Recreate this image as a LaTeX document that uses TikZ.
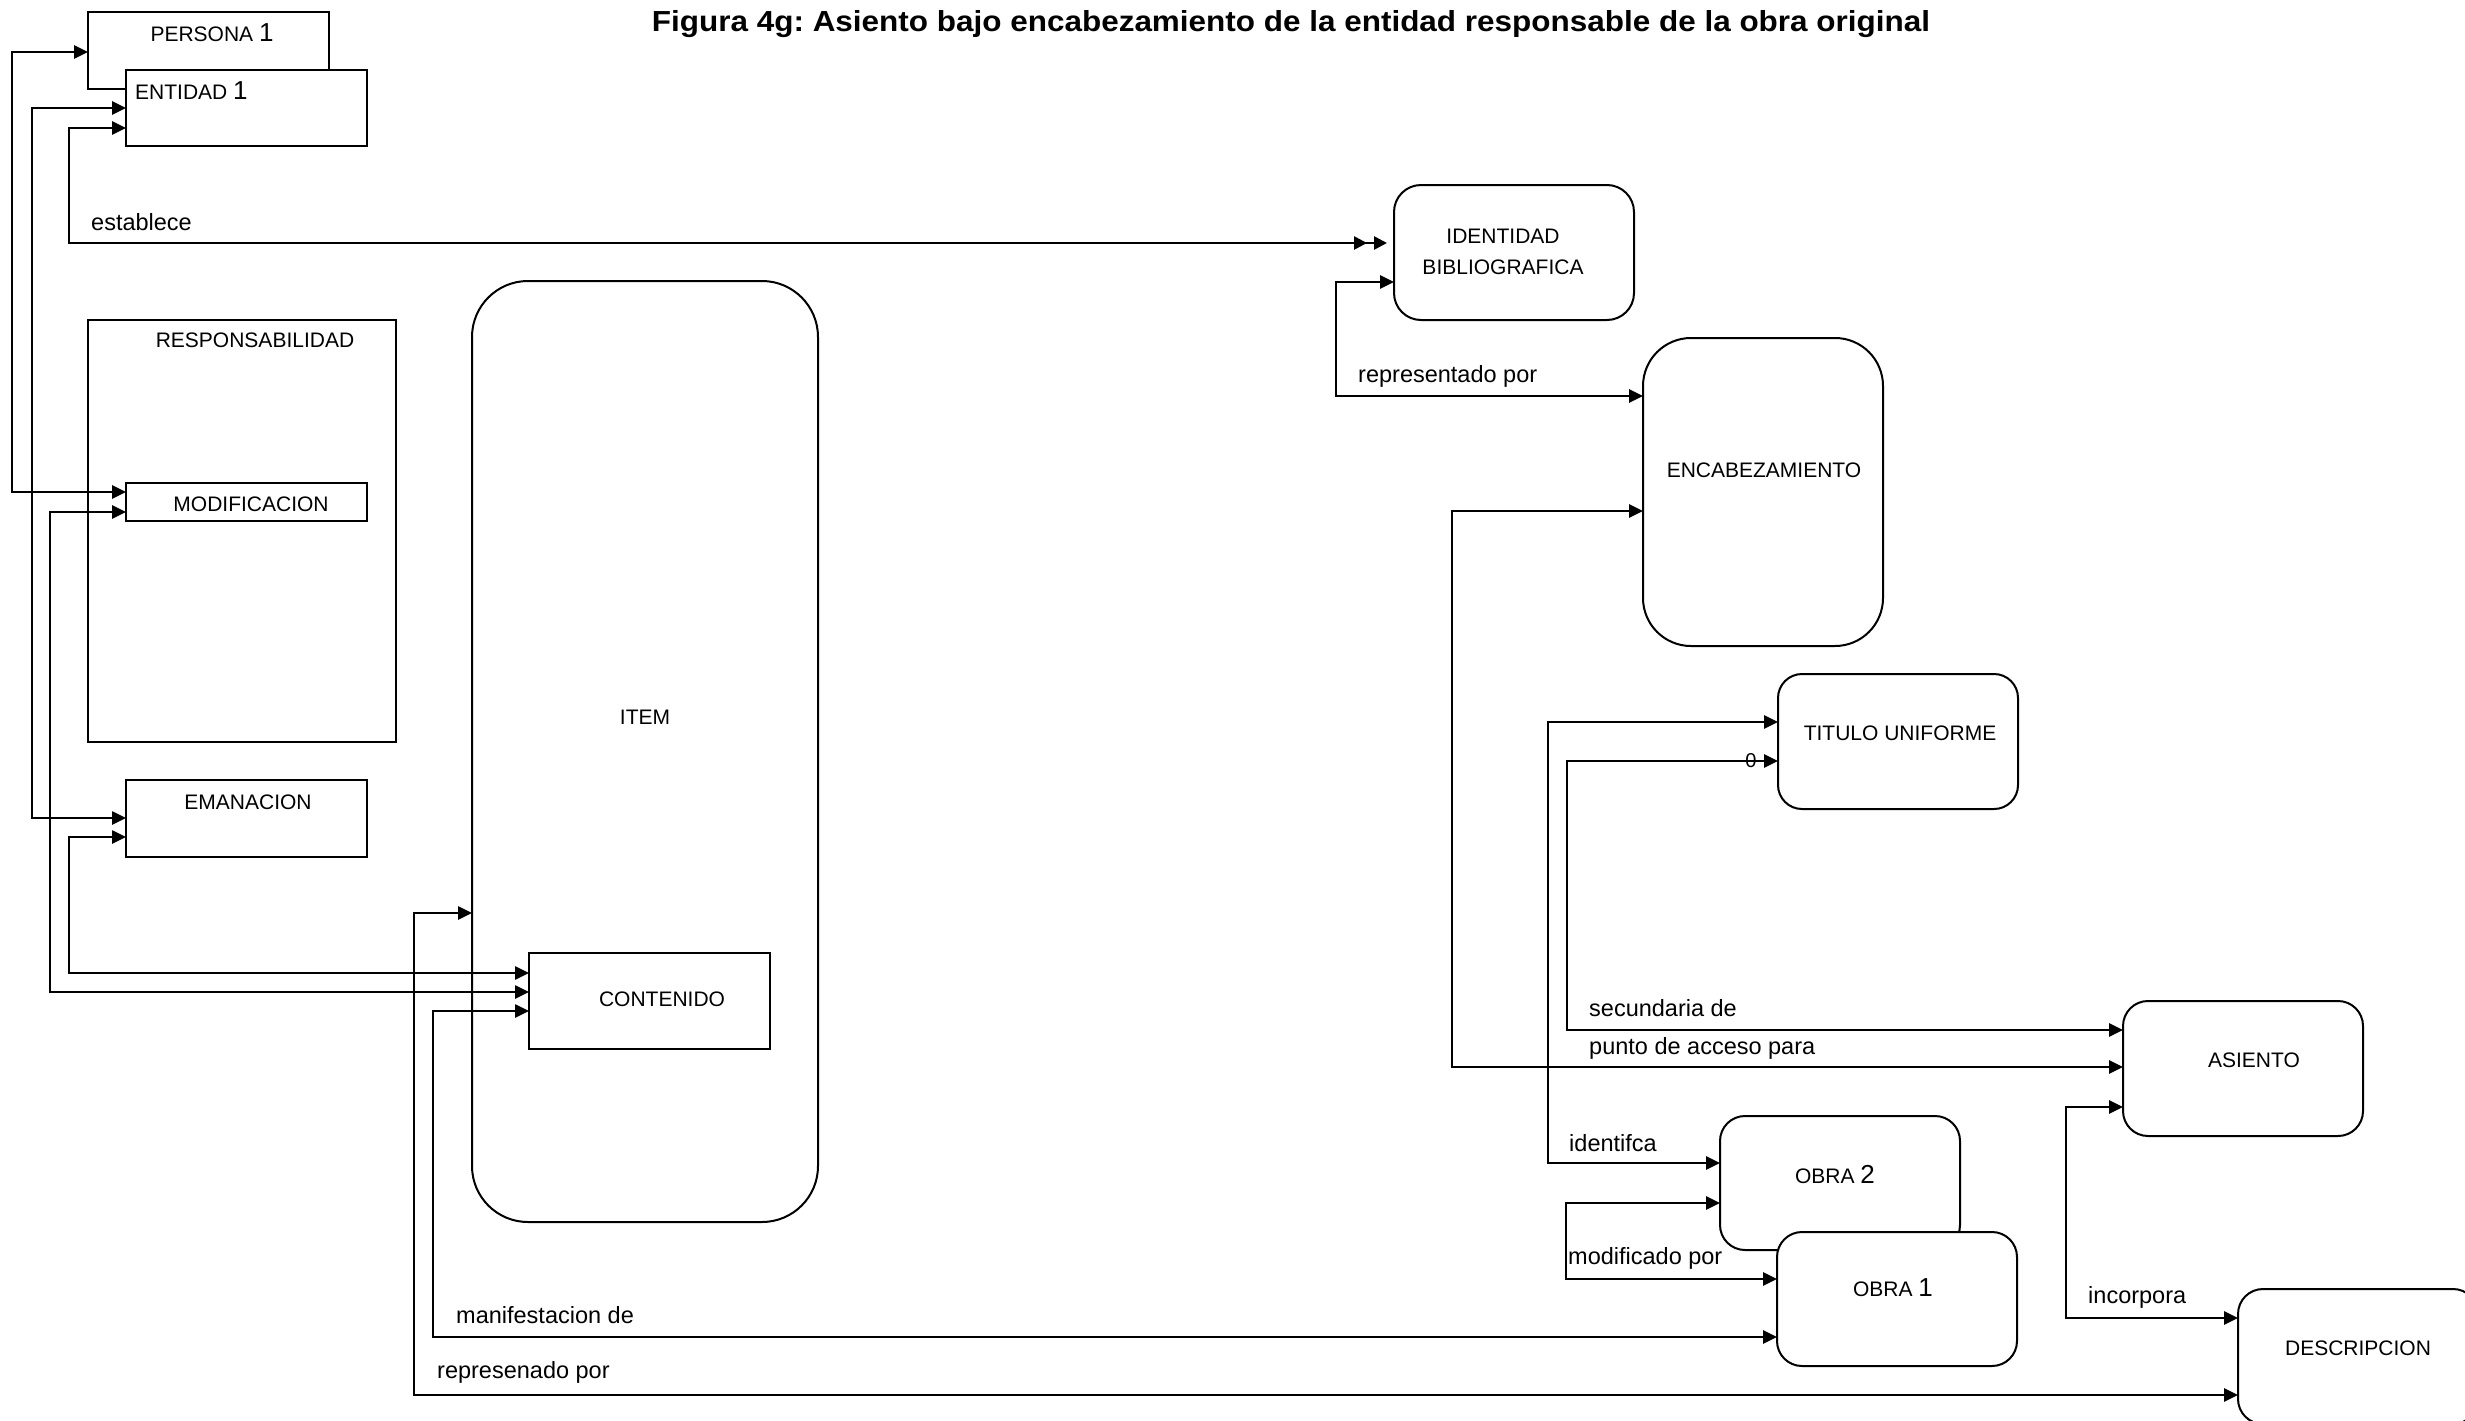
\documentclass[tikz,border=0pt]{standalone}
\usepackage{fontspec}
\setmainfont{Liberation Sans}
\usepackage{graphicx}
\usetikzlibrary{arrows.meta}
\definecolor{INK}{HTML}{000000}
\newcommand{\nb}[1]{{\fontsize{26}{26}\selectfont #1}}
\frenchspacing

\begin{document}
\begin{tikzpicture}[x=1pt,y=-1pt]
\tikzset{box/.style={draw=INK,line width=2.7pt,fill=white,inner sep=0pt,outer sep=0pt},
 rbox/.style={box,line width=2pt,rounded corners=#1},
 lab/.style={font=\fontsize{21}{25}\selectfont,inner sep=0pt,INK},
 rel/.style={font=\fontsize{23.5}{28}\selectfont,inner sep=0pt,anchor=west,INK},
 link/.style={line width=2.6pt,INK,{Triangle[length=14pt,width=13pt]}-{Triangle[length=14pt,width=13pt]}},
 link2/.style={link,{Triangle[length=14pt,width=13pt]}-{Triangle[length=13pt,width=13pt,sep=7pt]Triangle[length=13pt,width=13pt,sep=7pt]}}}
\clip (0,0) rectangle (2465,1421);
\fill[white] (0,0) rectangle (2465,1421);
\node[font=\bfseries\fontsize{29}{34}\selectfont,inner sep=0pt] (ttl) at (1291,24)
 {\scalebox{1.085}[1]{Figura 4g: Asiento bajo encabezamiento de la entidad responsable de la obra original}};
% left column
\node[box,minimum width=241pt,minimum height=77pt] (persona) at (208.5,50.5) {};
\node[lab] at (212,33) {PERSONA \nb{1}};
\node[box,minimum width=241pt,minimum height=76pt] (entidad) at (246.5,108) {};
\node[lab,anchor=west] at (135,91) {ENTIDAD \nb{1}};
\node[box,minimum width=308pt,minimum height=422pt] (resp) at (242,531) {};
\node[lab] at (255,340) {RESPONSABILIDAD};
\node[box,minimum width=241pt,minimum height=38pt] (modif) at (246.5,502) {};
\node[lab] at (251,504) {MODIFICACION};
\node[box,minimum width=241pt,minimum height=77pt] (eman) at (246.5,818.5) {};
\node[lab] at (248,802) {EMANACION};
\node[rbox=56pt,minimum width=346pt,minimum height=941pt] (item) at (645,751.5) {};
\node[lab] at (645,717) {ITEM};
\node[box,minimum width=241pt,minimum height=96pt] (cont) at (649.5,1001) {};
\node[lab] at (662,999) {CONTENIDO};
% right side
\node[rbox=27pt,minimum width=240pt,minimum height=135pt] (ident) at (1514,252.5) {};
\node[lab,font=\fontsize{21}{31}\selectfont,align=center] at (1503,252) {IDENTIDAD\\BIBLIOGRAFICA};
\node[rbox=48pt,minimum width=240pt,minimum height=308pt] (encab) at (1763,492) {};
\node[lab] at (1764,470) {ENCABEZAMIENTO};
\node[rbox=24pt,minimum width=240pt,minimum height=135pt] (titulo) at (1898,741.5) {};
\node[lab] at (1900,733) {TITULO UNIFORME};
\node[rbox=25pt,minimum width=240pt,minimum height=135pt] (asiento) at (2243,1068.5) {};
\node[lab] at (2254,1060) {ASIENTO};
\node[rbox=25pt,minimum width=240pt,minimum height=134pt] (obra2) at (1840,1183) {};
\node[lab] at (1835,1175) {OBRA \nb{2}};
\node[rbox=25pt,minimum width=240pt,minimum height=134pt] (obra1) at (1897,1299) {};
\node[lab] at (1893,1288) {OBRA \nb{1}};
\node[rbox=25pt,minimum width=240pt,minimum height=135pt] (descr) at (2358,1356.5) {};
\node[lab] at (2358,1348) {DESCRIPCION};
% relations
\draw[link] (persona.west |- 0,52) -- (12,52) -- (12,492) -- (modif.west |- 0,492);
\draw[link] (entidad.west |- 0,108) -- (32,108) -- (32,818) -- (eman.west |- 0,818);
\draw[link2] (entidad.west |- 0,128) -- (69,128) -- (69,243) -- (ident.west |- 0,243);
\draw[link] (modif.west |- 0,512) -- (50,512) -- (50,992) -- (cont.west |- 0,992);
\draw[link] (eman.west |- 0,837) -- (69,837) -- (69,973) -- (cont.west |- 0,973);
\draw[link] (item.west |- 0,913) -- (414,913) -- (414,1395) -- (descr.west |- 0,1395);
\draw[link] (cont.west |- 0,1011) -- (433,1011) -- (433,1337) -- (obra1.west |- 0,1337);
\draw[link] (ident.west |- 0,282) -- (1336,282) -- (1336,396) -- (encab.west |- 0,396);
\draw[link] (encab.west |- 0,511) -- (1452,511) -- (1452,1067) -- (asiento.west |- 0,1067);
\draw[link] (titulo.west |- 0,722) -- (1548,722) -- (1548,1163) -- (obra2.west |- 0,1163);
\draw[link] (titulo.west |- 0,761) -- (1567,761) -- (1567,1030) -- (asiento.west |- 0,1030);
\draw[link] (obra2.west |- 0,1203) -- (1566,1203) -- (1566,1279) -- (obra1.west |- 0,1279);
\draw[link] (asiento.west |- 0,1107) -- (2066,1107) -- (2066,1318) -- (descr.west |- 0,1318);
\node[lab,font=\fontsize{20}{24}\selectfont] at (1751,761) {0};
\node[rel] at (91,222) {establece};
\node[rel] at (1358,376) {representado por};
\node[rel] at (1589,1008) {secundaria de};
\node[rel] at (1589,1048) {punto de acceso para};
\node[rel] at (1569,1143) {identifca};
\node[rel] at (1568,1258) {modificado por};
\node[rel] at (2088,1297) {incorpora};
\node[rel] at (456,1315) {manifestacion de};
\node[rel] at (437,1372) {represenado por};
\end{tikzpicture}
\end{document}
